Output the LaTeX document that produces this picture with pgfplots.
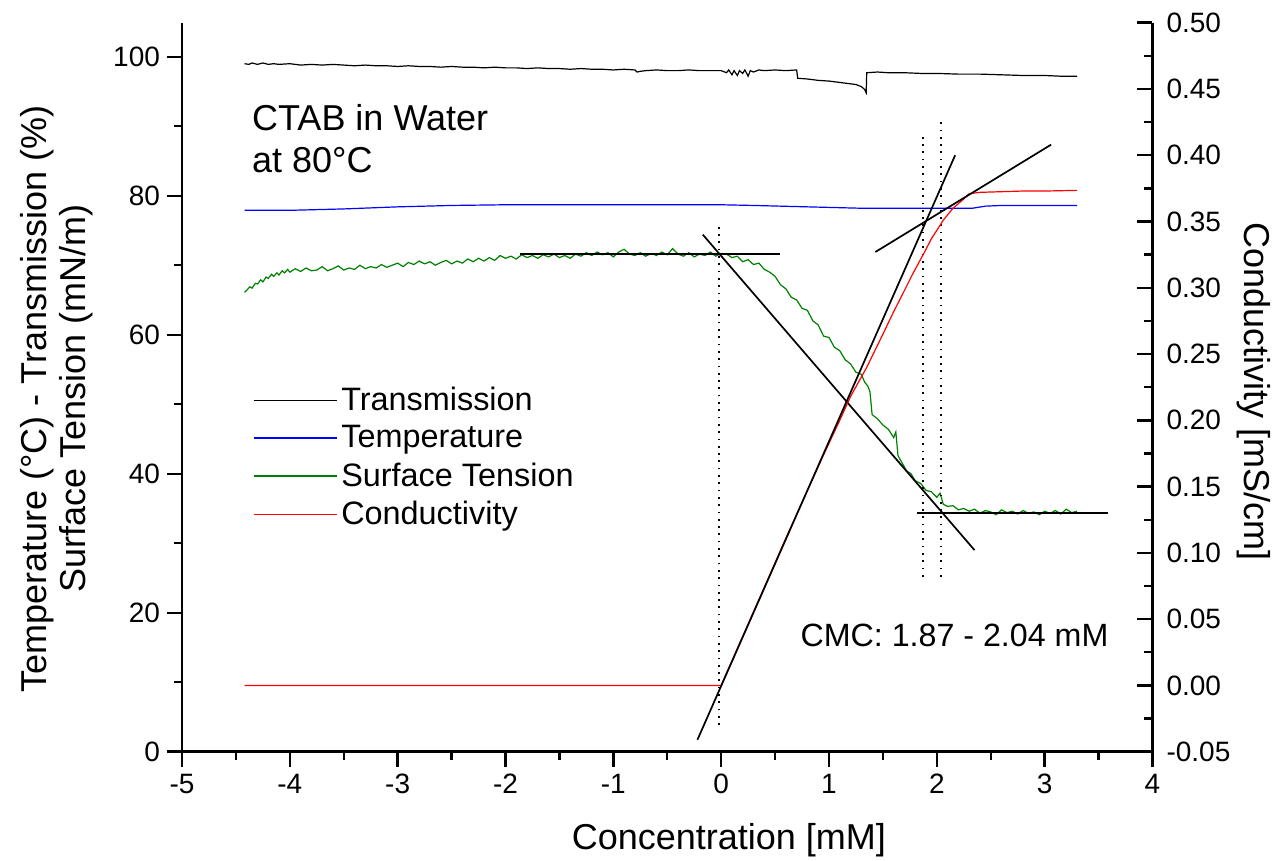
\documentclass[border=0pt]{standalone}
\usepackage{fontspec}
\setmainfont{Liberation Sans}
\usepackage{pgfplots}
\pgfplotsset{compat=1.18}
\definecolor{dgreen}{RGB}{0,128,0}
\begin{document}
\begin{tikzpicture}
\useasboundingbox (0,0) rectangle (640.5pt,430.5pt);
\pgfplotsset{
  common/.style={
    at={(91pt,54.65pt)}, anchor=south west, scale only axis,
    width=485.25pt, height=364.5pt,
    xmin=-5, xmax=4, clip=false,
    axis line style={line width=1.2pt},
    every tick/.style={black, line width=1.2pt},
    major tick length=7.5pt, minor tick length=4pt,
    tick label style={font=\fontsize{14}{16}\selectfont},
    /pgf/number format/assume math mode=true,
    label style={font=\fontsize{18}{19.5}\selectfont},
  }
}
\begin{axis}[common,
  ymin=0, ymax=104.9,
  axis x line*=bottom, axis y line*=left, tick align=outside,
  xtick={-5,-4,-3,-2,-1,0,1,2,3,4}, minor x tick num=1,
  ytick={0,20,40,60,80,100}, minor y tick num=1,
  xlabel={Concentration [mM]},
  xlabel style={at={(axis description cs:0.5636,-0.1339)}, anchor=base},
  ylabel={Temperature (°C) - Transmission (\%)\\Surface Tension (mN/m)},
  ylabel style={align=center, at={(axis description cs:-0.1293,0.484)}, anchor=center},
  legend style={at={(axis cs:-4.40,53.7)}, anchor=north west, draw=none, fill=none,
    font=\fontsize{16.2}{18}\selectfont, row sep=2pt},
  legend cell align=left,
  legend image code/.code={\draw[#1] (0pt,0pt) -- (41.5pt,0pt);},
]
% Transmission
\addplot[black, line width=0.6pt] coordinates {
(-4.42,99.0) (-4.38,98.9) (-4.35,99.1) (-4.30,98.9) (-4.25,99.1) (-4.20,98.9) (-4.15,99.0) (-4.10,98.9) (-4.00,99.0)
(-3.90,98.8) (-3.80,98.9) (-3.70,98.8) (-3.60,98.9) (-3.50,98.8) (-3.40,98.7)
(-3.30,98.8) (-3.20,98.7) (-3.10,98.7) (-3.00,98.6) (-2.90,98.7) (-2.80,98.6)
(-2.70,98.6) (-2.60,98.5) (-2.50,98.6) (-2.40,98.5) (-2.30,98.5) (-2.20,98.4)
(-2.10,98.5) (-2.00,98.4) (-1.90,98.4) (-1.80,98.3) (-1.70,98.4) (-1.60,98.3)
(-1.50,98.3) (-1.40,98.2) (-1.30,98.3) (-1.20,98.2) (-1.10,98.2) (-1.00,98.1)
(-0.90,98.2) (-0.80,98.1) (-0.78,97.8) (-0.75,97.9) (-0.70,98.0) (-0.60,98.1)
(-0.50,98.0) (-0.40,98.0) (-0.30,98.1) (-0.20,98.0) (-0.10,98.0) (0.00,98.0)
(0.05,97.7) (0.07,98.1) (0.10,97.4) (0.12,98.0) (0.15,97.3) (0.17,98.0)
(0.20,97.6) (0.22,98.1) (0.25,97.2) (0.27,98.0) (0.30,97.8) (0.35,98.1)
(0.40,98.0) (0.50,98.1) (0.60,98.0) (0.70,98.1) (0.71,96.9) (0.80,96.8)
(0.90,96.6) (1.00,96.5) (1.10,96.3) (1.20,96.1) (1.25,96.0) (1.30,95.7)
(1.33,95.3) (1.345,94.8) (1.35,97.7) (1.45,97.8) (1.55,97.7) (1.70,97.7)
(1.85,97.6) (2.00,97.6) (2.20,97.5) (2.40,97.5) (2.60,97.4) (2.80,97.3)
(3.00,97.3) (3.15,97.2) (3.30,97.2)
};
\addlegendentry{Transmission}
% Temperature
\addplot[blue, line width=0.6pt] coordinates {
(-4.42,77.9) (-4.00,77.9) (-3.50,78.1) (-3.00,78.4) (-2.50,78.6) (-2.00,78.7)
(-1.00,78.7) (0.00,78.7) (0.30,78.6) (0.80,78.4) (1.30,78.2) (2.00,78.2)
(2.33,78.2) (2.45,78.5) (2.60,78.6) (3.30,78.6)
};
\addlegendentry{Temperature}
% Surface tension
\addplot[dgreen, line width=0.6pt] coordinates {
(-4.42,66.1) (-4.40,66.4) (-4.37,66.9) (-4.35,66.7) (-4.32,67.4) (-4.30,67.3)
(-4.27,67.9) (-4.25,67.6) (-4.22,68.3) (-4.20,68.1) (-4.17,68.7) (-4.15,68.4)
(-4.12,68.9) (-4.10,68.6) (-4.07,69.2) (-4.05,68.9) (-4.02,69.4) (-4.00,69.0)
(-3.95,69.5) (-3.90,69.1) (-3.85,69.6) (-3.80,69.2) (-3.75,69.3) (-3.70,69.8)
(-3.65,69.2) (-3.60,69.5) (-3.55,69.9) (-3.50,69.3) (-3.45,69.6) (-3.40,69.4)
(-3.35,70.0) (-3.30,69.5) (-3.25,69.8) (-3.20,69.6) (-3.15,70.1) (-3.10,69.7)
(-3.05,70.0) (-3.00,70.3) (-2.95,69.8) (-2.90,70.4) (-2.85,70.1) (-2.80,70.6)
(-2.75,70.2) (-2.70,70.5) (-2.65,70.0) (-2.60,70.4) (-2.55,70.7) (-2.50,70.2)
(-2.45,70.6) (-2.40,70.3) (-2.35,70.9) (-2.30,70.5) (-2.25,71.0) (-2.20,70.6)
(-2.15,71.1) (-2.10,70.7) (-2.05,71.4) (-2.00,71.0) (-1.95,71.3) (-1.90,70.9)
(-1.85,71.5) (-1.80,71.1) (-1.75,71.4) (-1.70,71.0) (-1.65,71.5) (-1.60,71.2)
(-1.55,71.6) (-1.50,71.1) (-1.45,71.4) (-1.40,71.0) (-1.35,71.6) (-1.30,71.3)
(-1.25,71.8) (-1.20,71.4) (-1.15,71.9) (-1.10,71.5) (-1.05,71.8) (-1.00,71.2)
(-0.95,71.9) (-0.90,72.3) (-0.85,71.6) (-0.80,71.4) (-0.75,71.8) (-0.70,71.3)
(-0.65,71.7) (-0.60,71.4) (-0.55,71.9) (-0.50,71.5) (-0.45,72.4) (-0.40,71.6)
(-0.35,71.3) (-0.30,71.8) (-0.25,71.2) (-0.20,71.6) (-0.15,71.4) (-0.10,71.9)
(-0.05,71.3) (0.00,71.7) (0.05,71.6) (0.10,71.1) (0.15,71.3) (0.20,70.5)
(0.25,70.8) (0.30,70.1) (0.35,70.3) (0.40,69.4) (0.45,69.0) (0.50,68.4)
(0.55,67.2) (0.60,66.6) (0.65,65.4) (0.70,65.0) (0.75,63.8) (0.80,63.5)
(0.85,62.0) (0.90,61.4) (0.95,59.8) (1.00,59.6) (1.05,58.2) (1.10,57.7)
(1.15,56.4) (1.20,55.8) (1.25,54.6) (1.30,54.3) (1.33,53.2) (1.36,52.6)
(1.38,51.8) (1.40,48.5) (1.45,47.9) (1.50,47.0) (1.55,46.4) (1.60,45.2)
(1.62,46.0) (1.64,42.6) (1.68,41.5) (1.72,40.4) (1.76,40.0) (1.80,39.0)
(1.85,38.6) (1.90,37.6) (1.95,37.4) (2.00,36.6) (2.03,37.2) (2.06,35.6)
(2.10,35.3) (2.15,35.4) (2.20,34.8) (2.25,35.0) (2.30,34.6) (2.35,34.9)
(2.40,34.3) (2.45,34.7) (2.50,34.5) (2.55,34.1) (2.60,34.8) (2.65,34.4)
(2.70,34.6) (2.75,34.2) (2.80,34.7) (2.85,34.3) (2.90,34.5) (2.95,34.1)
(3.00,34.6) (3.05,34.3) (3.10,34.7) (3.15,34.2) (3.20,34.9) (3.25,34.4)
(3.30,34.6)
};
\addlegendentry{Surface Tension}
\addlegendimage{red, line width=0.6pt}
\addlegendentry{Conductivity}
% tangents (left axis)
\addplot[black, line width=0.85pt, forget plot] coordinates {(-1.87,71.6) (0.55,71.6)};
\addplot[black, line width=0.85pt, forget plot] coordinates {(-0.17,74.4) (2.35,29.0)};
\addplot[black, line width=0.85pt, forget plot] coordinates {(1.82,34.3) (3.59,34.3)};
% dotted verticals
\addplot[black, line width=0.85pt, dash pattern=on 0.85pt off 2.8pt, forget plot] coordinates {(-0.02,3.85) (-0.02,75.5)};
\addplot[black, line width=0.85pt, dash pattern=on 0.85pt off 2.8pt, forget plot] coordinates {(1.87,25.2) (1.87,89.1)};
\addplot[black, line width=0.85pt, dash pattern=on 0.85pt off 2.8pt, forget plot] coordinates {(2.04,25.2) (2.04,90.9)};
\node[anchor=base west, font=\fontsize{18}{20}\selectfont, inner sep=0pt] at (axis cs:-4.353,89.45) {CTAB in Water};
\node[anchor=base west, font=\fontsize{18}{20}\selectfont, inner sep=0pt] at (axis cs:-4.353,83.3) {at 80°C};
\node[anchor=base west, font=\fontsize{16.1}{18}\selectfont, inner sep=0pt] at (axis cs:0.733,15.1) {CMC: 1.87 - 2.04 mM};
\end{axis}
\begin{axis}[common,
  ymin=-0.05, ymax=0.5,
  axis x line=none, axis y line*=right, tick align=inside,
  xtick=\empty,
  ytick={-0.05,0,0.05,0.1,0.15,0.2,0.25,0.3,0.35,0.4,0.45,0.5}, minor y tick num=1,
  yticklabel style={xshift=3.5pt, /pgf/number format/fixed, /pgf/number format/precision=2, /pgf/number format/fixed zerofill},
  ylabel={Conductivity [mS/cm]},
  ylabel style={rotate=180, at={(axis description cs:1.1046,0.494)}, anchor=center},
]
\addplot[red, line width=0.6pt] coordinates {
(-4.42,0.000) (-3.00,0.000) (-1.50,0.000) (0.00,0.000) (0.20,0.037) (0.40,0.074)
(0.60,0.111) (0.80,0.147) (0.95,0.174) (1.10,0.200) (1.20,0.218) (1.35,0.240)
(1.50,0.265) (1.60,0.282) (1.70,0.298) (1.78,0.311) (1.88,0.326) (1.95,0.337)
(2.06,0.351) (2.15,0.360) (2.25,0.367) (2.30,0.371) (2.40,0.372) (2.60,0.3725)
(2.80,0.373) (3.00,0.373) (3.30,0.3735)
};
\addplot[black, line width=0.85pt] coordinates {(-0.22,-0.041) (2.17,0.400)};
\addplot[black, line width=0.85pt] coordinates {(1.43,0.327) (3.06,0.408)};
\end{axis}
\end{tikzpicture}
\end{document}
